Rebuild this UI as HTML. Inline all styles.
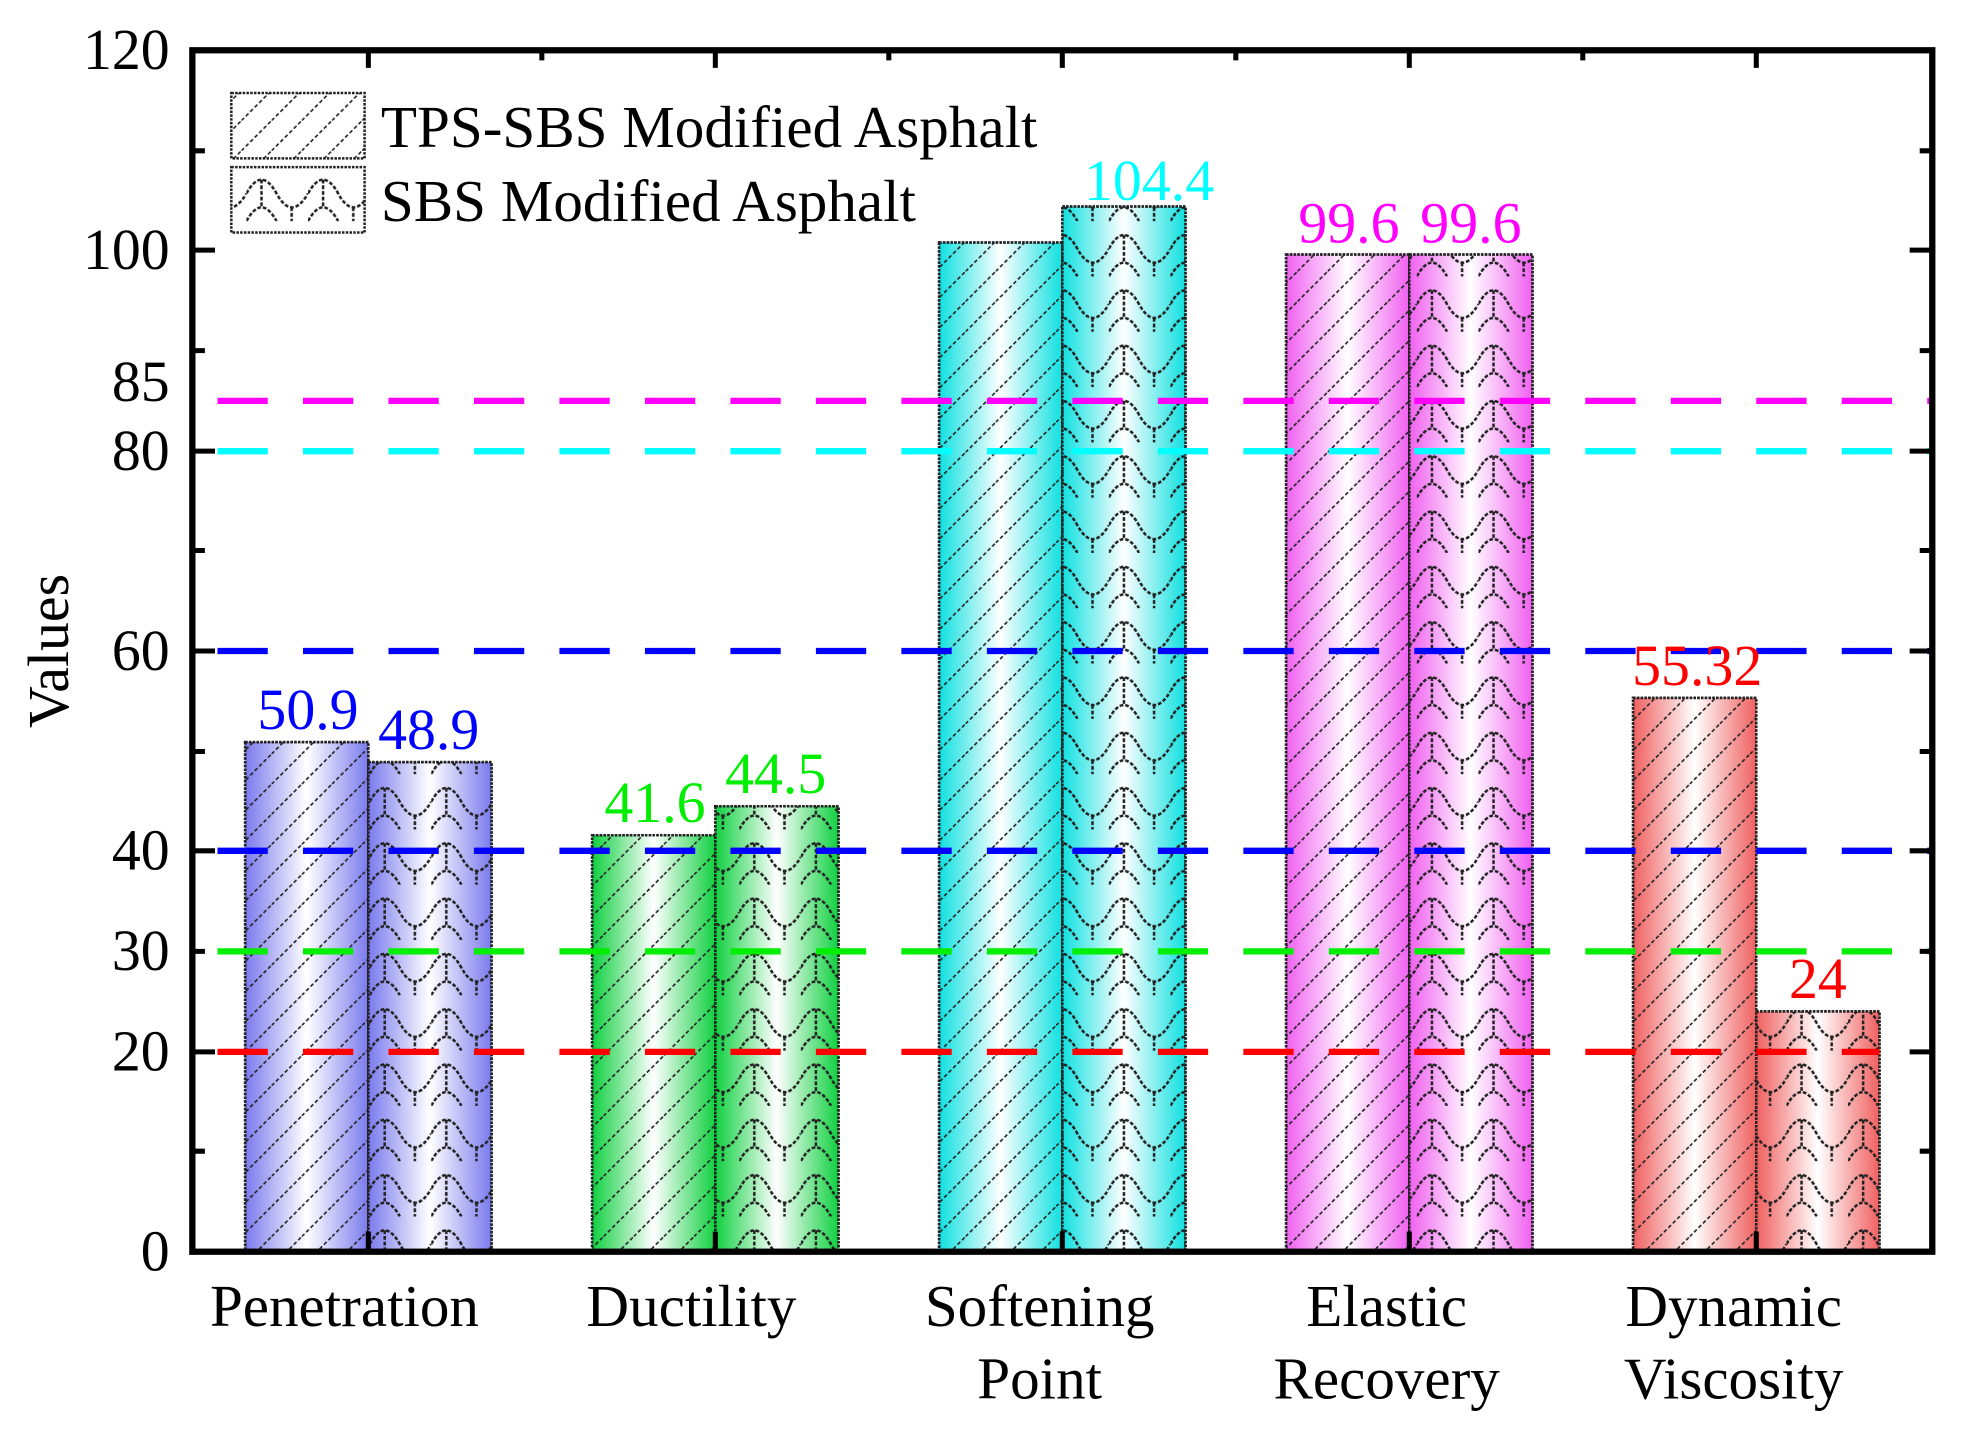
<!DOCTYPE html>
<html><head><style>html,body{margin:0;padding:0;background:#fff}</style></head><body>
<svg width="1970" height="1444" viewBox="0 0 1567 1149" preserveAspectRatio="none" xmlns="http://www.w3.org/2000/svg" font-family="Liberation Serif, serif">
<defs>
<linearGradient id="gb" x1="0" x2="1"><stop offset="0" stop-color="#7a7aee"/><stop offset="0.5" stop-color="#fff"/><stop offset="1" stop-color="#7a7aee"/></linearGradient>
<linearGradient id="gg" x1="0" x2="1"><stop offset="0" stop-color="#10d040"/><stop offset="0.5" stop-color="#fff"/><stop offset="1" stop-color="#10d040"/></linearGradient>
<linearGradient id="gc" x1="0" x2="1"><stop offset="0" stop-color="#10e0e0"/><stop offset="0.5" stop-color="#fff"/><stop offset="1" stop-color="#10e0e0"/></linearGradient>
<linearGradient id="gm" x1="0" x2="1"><stop offset="0" stop-color="#f060f0"/><stop offset="0.5" stop-color="#fff"/><stop offset="1" stop-color="#f060f0"/></linearGradient>
<linearGradient id="gr" x1="0" x2="1"><stop offset="0" stop-color="#f06060"/><stop offset="0.5" stop-color="#fff"/><stop offset="1" stop-color="#f06060"/></linearGradient>
<pattern id="pd" width="24" height="24" patternUnits="userSpaceOnUse"><path d="M0 24L24 0" stroke="#222" stroke-width="1.3" stroke-dasharray="3 2"/></pattern>
<pattern id="ps" width="49" height="44" patternUnits="userSpaceOnUse"><path d="M0 22 Q12 0 24 22 T49 22 M12 11 V33 M36 33 V44" fill="none" stroke="#222" stroke-width="2" stroke-dasharray="3 1.5"/><path d="M0 44 Q12 22 24 44" fill="none" stroke="#222" stroke-width="2" stroke-dasharray="3 1.5"/></pattern>
</defs>
<g stroke="#222" stroke-width="2" stroke-dasharray="2 1">
<rect x="195" y="590.5" width="98" height="405.5" fill="url(#gb)"/><rect x="195" y="590.5" width="98" height="405.5" fill="url(#pd)"/>
<rect x="293" y="606.4" width="98" height="389.6" fill="url(#gb)"/><rect x="293" y="606.4" width="98" height="389.6" fill="url(#ps)"/>
<rect x="471" y="664.6" width="98" height="331.4" fill="url(#gg)"/><rect x="471" y="664.6" width="98" height="331.4" fill="url(#pd)"/>
<rect x="569" y="641.5" width="98" height="354.5" fill="url(#gg)"/><rect x="569" y="641.5" width="98" height="354.5" fill="url(#ps)"/>
<rect x="747" y="193" width="98" height="803" fill="url(#gc)"/><rect x="747" y="193" width="98" height="803" fill="url(#pd)"/>
<rect x="845" y="164.3" width="98" height="831.7" fill="url(#gc)"/><rect x="845" y="164.3" width="98" height="831.7" fill="url(#ps)"/>
<rect x="1023" y="202.5" width="98" height="793.5" fill="url(#gm)"/><rect x="1023" y="202.5" width="98" height="793.5" fill="url(#pd)"/>
<rect x="1121" y="202.5" width="98" height="793.5" fill="url(#gm)"/><rect x="1121" y="202.5" width="98" height="793.5" fill="url(#ps)"/>
<rect x="1299" y="555.3" width="98" height="440.7" fill="url(#gr)"/><rect x="1299" y="555.3" width="98" height="440.7" fill="url(#pd)"/>
<rect x="1397" y="804.8" width="98" height="191.2" fill="url(#gr)"/><rect x="1397" y="804.8" width="98" height="191.2" fill="url(#ps)"/>
</g>
<g stroke-width="5" stroke-dasharray="40 28">
<line x1="173" x2="1535" y1="319" y2="319" stroke="#ff00ff"/>
<line x1="173" x2="1535" y1="359" y2="359" stroke="#00ffff"/>
<line x1="173" x2="1535" y1="518" y2="518" stroke="#0000ff"/>
<line x1="173" x2="1535" y1="677" y2="677" stroke="#0000ff"/>
<line x1="173" x2="1535" y1="757" y2="757" stroke="#00ee00"/>
<line x1="173" x2="1495" y1="837" y2="837" stroke="#ff0000"/>
</g>
<rect x="153" y="40" width="1384" height="956" fill="none" stroke="#000" stroke-width="5"/>
<g stroke="#000" stroke-width="4">
<path d="M153 996h18M153 916h10M153 837h18M153 757h10M153 677h18M153 598h10M153 518h18M153 438h10M153 359h18M153 279h10M153 199h18M153 120h10M153 40h18"/>
<path d="M1537 996h-18M1537 916h-10M1537 837h-18M1537 757h-10M1537 677h-18M1537 598h-10M1537 518h-18M1537 438h-10M1537 359h-18M1537 279h-10M1537 199h-18M1537 120h-10"/>
<path d="M293 996v-16M569 996v-16M845 996v-16M1121 996v-16M1397 996v-16M293 40v14M569 40v14M845 40v14M1121 40v14M1397 40v14M431 40v8M707 40v8M983 40v8M1259 40v8"/>
</g>
<g font-size="46" text-anchor="end">
<text x="135" y="1011">0</text><text x="135" y="852">20</text><text x="135" y="772">30</text><text x="135" y="692">40</text><text x="135" y="533">60</text><text x="135" y="374">80</text><text x="135" y="319">85</text><text x="135" y="214">100</text><text x="135" y="55">120</text>
</g>
<text transform="translate(54 518) rotate(-90)" font-size="46" text-anchor="middle">Values</text>
<g font-size="47" text-anchor="middle">
<text x="274" y="1055">Penetration</text><text x="550" y="1055">Ductility</text>
<text x="827" y="1055">Softening</text><text x="827" y="1113">Point</text>
<text x="1103" y="1055">Elastic</text><text x="1103" y="1113">Recovery</text>
<text x="1379" y="1055">Dynamic</text><text x="1379" y="1113">Viscosity</text>
</g>
<g font-size="46" text-anchor="middle">
<text x="245" y="580" fill="#0000ff">50.9</text><text x="341" y="596" fill="#0000ff">48.9</text>
<text x="521" y="654" fill="#00ee00">41.6</text><text x="617" y="631" fill="#00ee00">44.5</text>
<text x="914" y="159" fill="#00ffff">104.4</text>
<text x="1073" y="193" fill="#ff00ff">99.6</text><text x="1170" y="193" fill="#ff00ff">99.6</text>
<text x="1350" y="545" fill="#ff0000">55.32</text><text x="1446" y="794" fill="#ff0000">24</text>
</g>
<g stroke="#222" stroke-width="2" stroke-dasharray="2 1">
<rect x="184" y="74" width="106" height="52" fill="url(#pd)"/>
<rect x="184" y="133" width="106" height="52" fill="url(#ps)"/>
</g>
<text x="303" y="117" font-size="47">TPS-SBS Modified Asphalt</text>
<text x="303" y="176" font-size="47">SBS Modified Asphalt</text>
</svg>
</body></html>
